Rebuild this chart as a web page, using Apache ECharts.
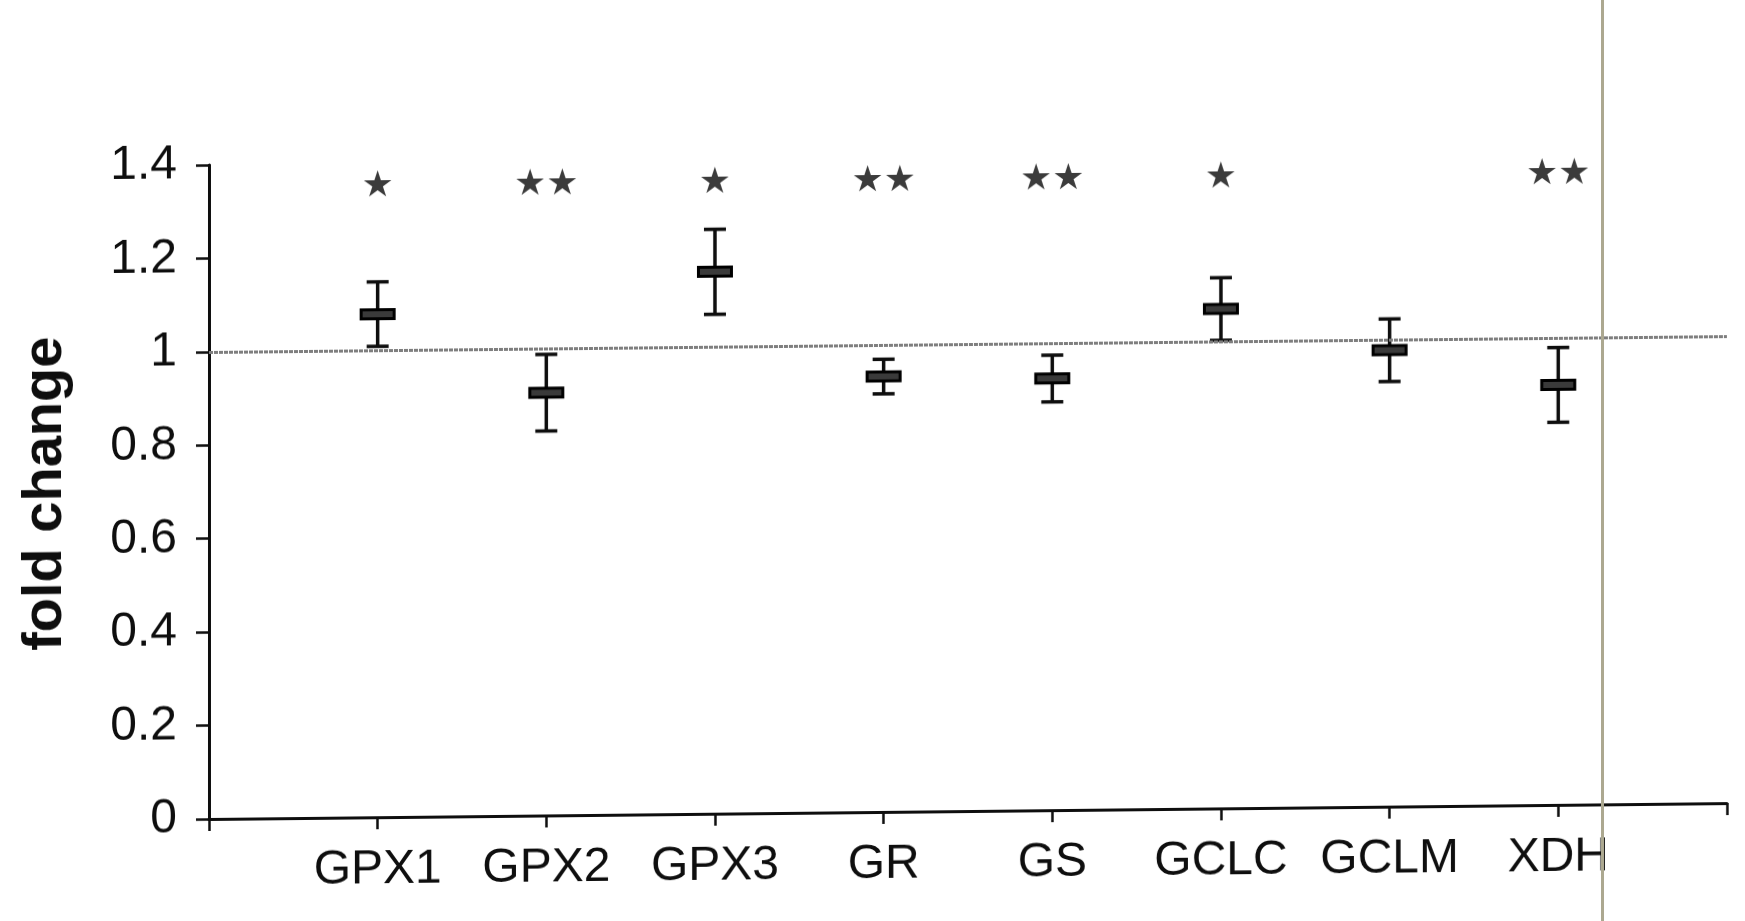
<!DOCTYPE html>
<html>
<head>
<meta charset="utf-8">
<title>fold change</title>
<script src="https://cdn.jsdelivr.net/npm/echarts@6/dist/echarts.min.js"></script>
<style>
  html, body { margin: 0; padding: 0; background: #ffffff; overflow: hidden; }
  #wrap { position: relative; width: 1745px; height: 921px; background: #ffffff; }
  /* the printed figure sits slightly skewed on the page */
  #chart {
    position: absolute; left: 0; top: 0;
    width: 1745px; height: 921px;
    transform: skewY(-0.6deg);
    transform-origin: 209px 819px;
  }
  /* page edge running down the right side */
  #edge {
    position: absolute; left: 1601px; top: 0;
    width: 3px; height: 921px;
    background: #aca890;
  }
</style>
</head>
<body>
<div id="wrap">
  <div id="chart"></div>
  <div id="edge"></div>
</div>
<script>
// Gene names along the x axis
const genes = ['GPX1', 'GPX2', 'GPX3', 'GR', 'GS', 'GCLC', 'GCLM', 'XDH'];
// Mean fold change per gene
const foldChange = [1.077, 0.905, 1.160, 0.932, 0.924, 1.069, 0.977, 0.899];
// Standard error per gene
const errorSE = [0.069, 0.082, 0.091, 0.037, 0.050, 0.067, 0.067, 0.080];
// Significance marks above each gene
const significance = ['*', '**', '*', '**', '**', '*', '', '**'];
// Height at which the significance marks sit
const markLevel = 1.35;
// Value axis range
const yMin = 0, yMax = 1.4, yStep = 0.2;
// Reference level (no change)
const baseline = 1;

// Category slots: empty slot at each end so genes sit between ticks
const slots = [''].concat(genes, ['']);

const barData = genes.map((g, i) => [i + 1, foldChange[i], errorSE[i]]);
const starData = genes
  .map((g, i) => [i + 1, markLevel, significance[i]])
  .filter(d => d[2] !== '');

const FONT = '"Liberation Sans", Arial, Helvetica, sans-serif';
const INK = '#0e0e0e';

function renderErrorBar(params, api) {
  const x = api.value(0);
  const m = api.value(1);
  const se = api.value(2);
  const pMean = api.coord([x, m]);
  const pHi = api.coord([x, m + se]);
  const pLo = api.coord([x, m - se]);
  const capW = 22, meanW = 33, meanH = 9;
  const line = { stroke: INK, lineWidth: 3.5 };
  return {
    type: 'group',
    children: [
      { type: 'line', shape: { x1: pHi[0], y1: pHi[1], x2: pLo[0], y2: pLo[1] }, style: line },
      { type: 'line', shape: { x1: pHi[0] - capW / 2, y1: pHi[1], x2: pHi[0] + capW / 2, y2: pHi[1] }, style: line },
      { type: 'line', shape: { x1: pLo[0] - capW / 2, y1: pLo[1], x2: pLo[0] + capW / 2, y2: pLo[1] }, style: line },
      {
        type: 'rect',
        shape: { x: pMean[0] - meanW / 2, y: pMean[1] - meanH / 2, width: meanW, height: meanH },
        style: { fill: '#3a3a3a', stroke: '#000000', lineWidth: 3 }
      }
    ]
  };
}

const chart = echarts.init(document.getElementById('chart'), null, { renderer: 'canvas' });

chart.setOption({
  backgroundColor: 'transparent',
  animation: false,
  grid: {
    left: 209, right: 18, top: 165, bottom: 102,
    containLabel: false,
    outerBoundsMode: 'none'
  },
  xAxis: {
    type: 'category',
    data: slots,
    boundaryGap: false,
    axisLine: { show: true, lineStyle: { color: INK, width: 3 } },
    axisTick: { show: true, interval: 0, length: 12, lineStyle: { color: INK, width: 2.5 } },
    axisLabel: {
      interval: 0, margin: 29,
      fontFamily: FONT, fontSize: 48, color: INK
    },
    splitLine: { show: false }
  },
  yAxis: {
    type: 'value',
    min: yMin, max: yMax, interval: yStep,
    name: 'fold change',
    nameLocation: 'middle',
    nameGap: 135,
    nameTextStyle: { fontFamily: FONT, fontSize: 56, fontWeight: 'bold', color: INK },
    axisLine: { show: true, lineStyle: { color: INK, width: 3 } },
    axisTick: { show: true, length: 13, lineStyle: { color: INK, width: 2.5 } },
    axisLabel: {
      margin: 32,
      fontFamily: FONT, fontSize: 48, color: INK
    },
    splitLine: { show: false }
  },
  series: [
    {
      name: 'significance',
      type: 'scatter',
      z: 1,
      symbolSize: 0,
      data: starData,
      label: {
        show: true,
        position: 'inside',
        fontFamily: '"DejaVu Sans", sans-serif',
        fontSize: 36,
        color: '#0a0a0a',
        formatter: p => p.value[2] === '**' ? '\u2605\u2605' : '\u2605'
      },
      markLine: {
        silent: true,
        symbol: ['none', 'none'],
        label: { show: false },
        lineStyle: { color: '#7e7e7e', width: 3, type: [4, 1] },
        data: [{ yAxis: baseline }]
      }
    },
    {
      name: 'fold change',
      type: 'custom',
      z: 3,
      renderItem: renderErrorBar,
      encode: { x: 0, y: 1 },
      data: barData
    }
  ]
});
</script>
</body>
</html>
